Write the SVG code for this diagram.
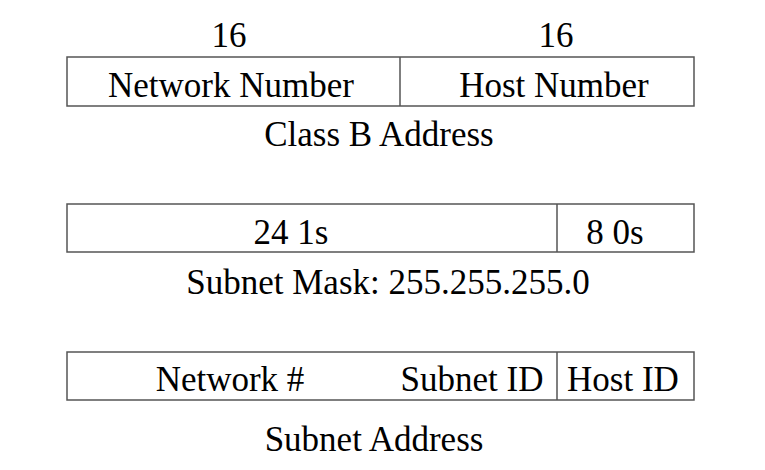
<svg xmlns="http://www.w3.org/2000/svg" width="765" height="470" viewBox="0 0 765 470">
<style>
.box{fill:#fff;stroke:#555;stroke-width:1.5}
.div{stroke:#555;stroke-width:1.5}
text{font-family:"Liberation Serif","Times New Roman",serif;font-size:35px;fill:#000;text-anchor:middle}
</style>
<rect width="765" height="470" fill="#fff"/>
<g id="classB">
<rect class="box" x="67" y="57" width="627" height="49"/>
<line class="div" x1="400" y1="57" x2="400" y2="106"/>
<text x="229" y="47">16</text>
<text x="556" y="47">16</text>
<text x="231" y="97">Network Number</text>
<text x="554" y="97">Host Number</text>
<text x="379" y="146">Class B Address</text>
</g>
<g id="mask">
<rect class="box" x="67" y="204" width="627" height="48"/>
<line class="div" x1="557" y1="204" x2="557" y2="252"/>
<text x="291" y="244">24 1s</text>
<text x="615" y="244">8 0s</text>
<text x="388" y="294">Subnet Mask: 255.255.255.0</text>
</g>
<g id="subnet">
<rect class="box" x="67" y="352" width="627" height="48"/>
<line class="div" x1="557" y1="352" x2="557" y2="400"/>
<text x="230" y="391">Network #</text>
<text x="472" y="391">Subnet ID</text>
<text x="623" y="391">Host ID</text>
<text x="374" y="451">Subnet Address</text>
</g>
<g id="connectors"/>
</svg>
